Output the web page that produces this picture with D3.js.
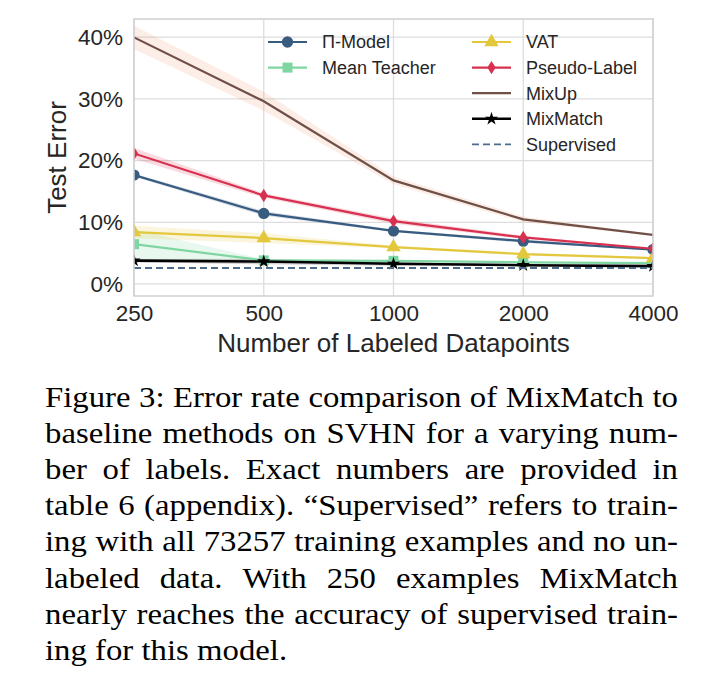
<!DOCTYPE html>
<html lang="en">
<head>
  <meta charset="UTF-8">
  <title>SVHN error rate vs labeled datapoints</title>
  <script src="https://d3js.org/d3.v7.min.js"></script>
  <style>
    body { margin: 0; background: #fff; }
    .sans, .tick text { font-family: "Liberation Sans", Arial, sans-serif; fill: #262626; }
    .serif { font-family: "Liberation Serif", "Times New Roman", Times, serif; fill: #000; }
  </style>
</head>
<body>
<svg id="chart" width="728" height="698"></svg>

<script>
  // labeled datapoints on the x axis
  const labeled = [250, 500, 1000, 2000, 4000];
  const yTicks = [0, 10, 20, 30, 40];

  // test error (%) per method
  const piModel     = [17.65, 11.44, 8.60, 6.94, 5.57];
  const meanTeacher = [6.45, 3.82, 3.75, 3.51, 3.39];
  const vat         = [8.41, 7.44, 5.98, 4.85, 4.20];
  const pseudoLabel = [21.16, 14.35, 10.19, 7.54, 5.71];
  const mixUp       = [39.97, 29.62, 16.79, 10.47, 7.96];
  const mixMatch    = [3.78, 3.64, 3.27, 3.04, 2.89];
  const supervised  = 2.59;

  // spread of the shaded bands
  const piModelStd     = [0.27, 0.39, 0.18, 0.27, 0.14];
  const meanTeacherStd = [2.43, 0.17, 0.10, 0.09, 0.11];
  const vatStd         = [1.01, 0.79, 0.21, 0.23, 0.15];
  const pseudoLabelStd = [0.88, 0.37, 0.41, 0.27, 0.07];
  const mixUpStd       = [1.89, 1.54, 0.63, 0.48, 0.14];
  const mixMatchStd    = [0.26, 0.46, 0.31, 0.13, 0.06];

  const captionLines = [
    "Figure 3: Error rate comparison of MixMatch to",
    "baseline methods on SVHN for a varying num-",
    "ber of labels. Exact numbers are provided in",
    "table 6 (appendix). \u201cSupervised\u201d refers to train-",
    "ing with all 73257 training examples and no un-",
    "labeled data. With 250 examples MixMatch",
    "nearly reaches the accuracy of supervised train-",
    "ing for this model."
  ];

  const svg = d3.select("#chart");
  svg.append("rect").attr("width", 728).attr("height", 698).attr("fill", "#fff");

  const plot = { left: 134, right: 653, top: 19, bottom: 296 };

  const x = d3.scaleLog().base(2).domain([250, 4000]).range([plot.left, plot.right]);
  const y = d3.scaleLinear().domain([-1.95, 42.95]).range([plot.bottom, plot.top]);

  // thin diamond like matplotlib's "d" marker
  const thinDiamond = {
    draw(ctx, size) {
      const h = Math.sqrt(size) / 2, w = h * 0.62;
      ctx.moveTo(0, -h); ctx.lineTo(w, 0); ctx.lineTo(0, h); ctx.lineTo(-w, 0); ctx.closePath();
    }
  };

  const series = [
    { name: "\u03a0-Model", values: piModel, std: piModelStd, color: "#385b80", symbol: d3.symbolCircle, size: 100 },
    { name: "Mean Teacher", values: meanTeacher, std: meanTeacherStd, color: "#7ed6a2", symbol: d3.symbolSquare, size: 100 },
    { name: "VAT", values: vat, std: vatStd, color: "#e3c83e", symbol: d3.symbolTriangle, size: 90 },
    { name: "Pseudo-Label", values: pseudoLabel, std: pseudoLabelStd, color: "#d8314f", symbol: thinDiamond, size: 180 },
    { name: "MixUp", values: mixUp, std: mixUpStd, color: "#6f5046", band: "#ec9a78", symbol: null },
    { name: "MixMatch", values: mixMatch, std: mixMatchStd, color: "#000000", symbol: d3.symbolStar, size: 55, width: 2.6 },
    { name: "Supervised", values: labeled.map(() => supervised), color: "#4d6c8c", dash: "7,4", symbol: null, width: 1.8 }
  ];

  // grid
  const grid = svg.append("g").attr("stroke", "#dddddd").attr("stroke-width", 1.3);
  grid.selectAll("line.h").data(yTicks).join("line")
    .attr("x1", plot.left).attr("x2", plot.right)
    .attr("y1", d => y(d)).attr("y2", d => y(d));
  grid.selectAll("line.v").data(labeled).join("line")
    .attr("y1", plot.top).attr("y2", plot.bottom)
    .attr("x1", d => x(d)).attr("x2", d => x(d));

  svg.append("clipPath").attr("id", "clip")
    .append("rect").attr("x", plot.left).attr("y", plot.top)
    .attr("width", plot.right - plot.left).attr("height", plot.bottom - plot.top);

  const g = svg.append("g").attr("clip-path", "url(#clip)");

  // shaded bands
  series.filter(s => s.std).forEach(s => {
    const area = d3.area()
      .x((d, i) => x(labeled[i]))
      .y0((d, i) => y(d - s.std[i]))
      .y1((d, i) => y(d + s.std[i]));
    g.append("path").datum(s.values).attr("d", area)
      .attr("fill", s.band || s.color).attr("fill-opacity", 0.18);
  });

  const line = d3.line().x((d, i) => x(labeled[i])).y(d => y(d));

  series.forEach(s => {
    g.append("path").datum(s.values).attr("d", line)
      .attr("fill", "none").attr("stroke", s.color)
      .attr("stroke-width", s.width || 2.2)
      .attr("stroke-dasharray", s.dash || null);
    if (s.symbol) {
      g.selectAll(null).data(s.values).join("path")
        .attr("transform", (d, i) => `translate(${x(labeled[i])},${y(d)})`)
        .attr("d", d3.symbol(s.symbol, s.size))
        .attr("fill", s.color);
    }
  });

  // frame
  svg.append("rect").attr("x", plot.left).attr("y", plot.top)
    .attr("width", plot.right - plot.left).attr("height", plot.bottom - plot.top)
    .attr("fill", "none").attr("stroke", "#cfcfcf").attr("stroke-width", 1.5);

  // axes
  const xAxis = svg.append("g").attr("transform", `translate(0,${plot.bottom})`)
    .call(d3.axisBottom(x).tickValues(labeled).tickFormat(d3.format("d")).tickSize(0).tickPadding(9));
  xAxis.select(".domain").remove();
  xAxis.selectAll("text").style("font-size", "22.5px");

  const yAxis = svg.append("g").attr("transform", `translate(${plot.left - 1},0)`)
    .call(d3.axisLeft(y).tickValues(yTicks).tickFormat(d => d + "%").tickSize(0).tickPadding(10));
  yAxis.select(".domain").remove();
  yAxis.selectAll("text").style("font-size", "22.5px");

  svg.append("text").attr("class", "sans")
    .attr("x", (plot.left + plot.right) / 2).attr("y", 352)
    .attr("text-anchor", "middle").style("font-size", "26px")
    .text("Number of Labeled Datapoints");

  svg.append("text").attr("class", "sans")
    .attr("transform", `translate(66,${(plot.top + plot.bottom) / 2}) rotate(-90)`)
    .attr("text-anchor", "middle").style("font-size", "26px")
    .text("Test Error");

  // legend: two columns, no frame
  const legend = svg.append("g");
  series.forEach((s, i) => {
    const col = i < 2 ? 0 : 1;
    const row = i < 2 ? i : i - 2;
    const x0 = col === 0 ? 268 : 472;
    const yy = 42 + row * 25.6;
    const item = legend.append("g").attr("transform", `translate(${x0},${yy})`);
    item.append("line").attr("x1", 0).attr("x2", 39)
      .attr("stroke", s.color).attr("stroke-width", s.width || 2.2)
      .attr("stroke-dasharray", s.dash || null);
    if (s.symbol) {
      item.append("path").attr("transform", "translate(19.5,0)")
        .attr("d", d3.symbol(s.symbol, s.size)).attr("fill", s.color);
    }
    item.append("text").attr("class", "sans").attr("x", 54).attr("dy", "0.35em")
      .style("font-size", "18px")
      .text(s.name);
  });

  // caption, justified
  const capX = 45, capW = 633, capFs = 29, capSx = 1.13;
  captionLines.forEach((ln, i) => {
    const words = ln.split(" ");
    const t = svg.append("text").attr("class", "serif")
      .attr("transform", `translate(${capX},${407 + i * 36.1}) scale(${capSx},1)`)
      .style("font-size", capFs + "px");
    const spans = words.map(w => t.append("tspan").text(w));
    const widths = spans.map(sp => sp.node().getComputedTextLength());
    const total = d3.sum(widths);
    const last = i === captionLines.length - 1;
    const gap = last ? capFs * 0.25 : (capW / capSx - total) / (words.length - 1);
    let cx = 0;
    spans.forEach((sp, k) => { sp.attr("x", cx); cx += widths[k] + gap; });
  });
</script>
</body>
</html>
